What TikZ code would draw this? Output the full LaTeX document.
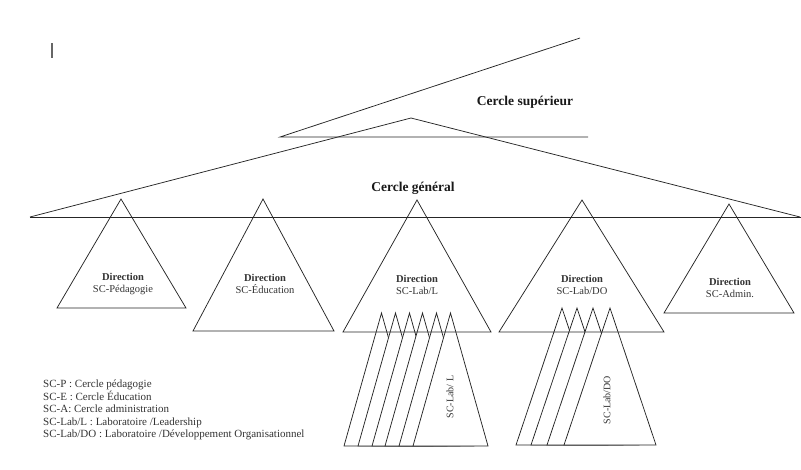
\documentclass[tikz,border=0pt]{standalone}
\usepackage{fontspec}
\setmainfont{Liberation Serif}
\usetikzlibrary{calc}

\begin{document}
\begin{tikzpicture}[x=1pt, y=-1pt,
  edge/.style={line width=0.75pt, draw=black!85},
  title/.style={inner sep=0pt, font=\fontsize{13.5}{15}\selectfont\bfseries, text=black!90},
  dirlabel/.style={inner sep=0pt, align=center, font=\fontsize{10.5}{12}\selectfont, text=black!80},
  sidelabel/.style={inner sep=0pt, rotate=90, font=\fontsize{10}{12}\selectfont, text=black!80}]
  \useasboundingbox (0,0) rectangle (801,469);

  % ----- Top: Cercle superieur -----
  \draw[black!60, line width=1.2pt] (52,43) -- (52,58);
  \draw[edge] (580,38) -- (280,137) -- (588,137);
  \node[title] (sup) at (525,102) {Cercle supérieur};

  % ----- Cercle general -----
  \draw[edge] (30,217) -- (411,118) -- (800,217);
  \draw[edge] (30,217) -- (801,217);
  \node[title] (gen) at (413,188) {Cercle général};

  % Stacked sub-circles (drawn first, parent triangles on top)
  \foreach \xl in {344,358,372,385,399,413}
    \draw[edge, fill=white] (\xl,446) -- (\xl+37.5,313) -- (\xl+75,446) -- cycle;
  \node[sidelabel] (labL) at (450,397) {SC-Lab/ L};

  \foreach \xl in {516,531,547,564}
    \draw[edge, fill=white] (\xl,445) -- (\xl+46,308) -- (\xl+92,445) -- cycle;
  \node[sidelabel] (labDO) at (607,400) {SC-Lab/DO};

  % ----- Directions -----
  \draw[edge] (57,308) -- (121,199) -- (186,308) -- cycle;
  \node[dirlabel] (dirP) at (123,284) {\textbf{Direction}\\SC-Pédagogie};

  \draw[edge] (193,331) -- (263,199) -- (334,331) -- cycle;
  \node[dirlabel] (dirE) at (265,284) {\textbf{Direction}\\SC-Éducation};

  \draw[edge] (343,332) -- (417,200) -- (491,332) -- cycle;
  \node[dirlabel] (dirL) at (417,285) {\textbf{Direction}\\SC-Lab/L};

  \draw[edge] (499,332) -- (582,200) -- (664,332) -- cycle;
  \node[dirlabel] (dirDO) at (582,285) {\textbf{Direction}\\SC-Lab/DO};

  \draw[edge] (664,313) -- (729,204) -- (794,313) -- cycle;
  \node[dirlabel] (dirA) at (730,288) {\textbf{Direction}\\SC-Admin.};

  % ----- Legend -----
  \node[dirlabel, align=left, anchor=north west,
        font=\fontsize{11}{12.4}\selectfont] (legend) at (43,380)
    {SC-P : Cercle pédagogie\\
     SC-E : Cercle Éducation\\
     SC-A: Cercle administration\\
     SC-Lab/L : Laboratoire /Leadership\\
     SC-Lab/DO : Laboratoire /Développement Organisationnel};
\end{tikzpicture}
\end{document}
